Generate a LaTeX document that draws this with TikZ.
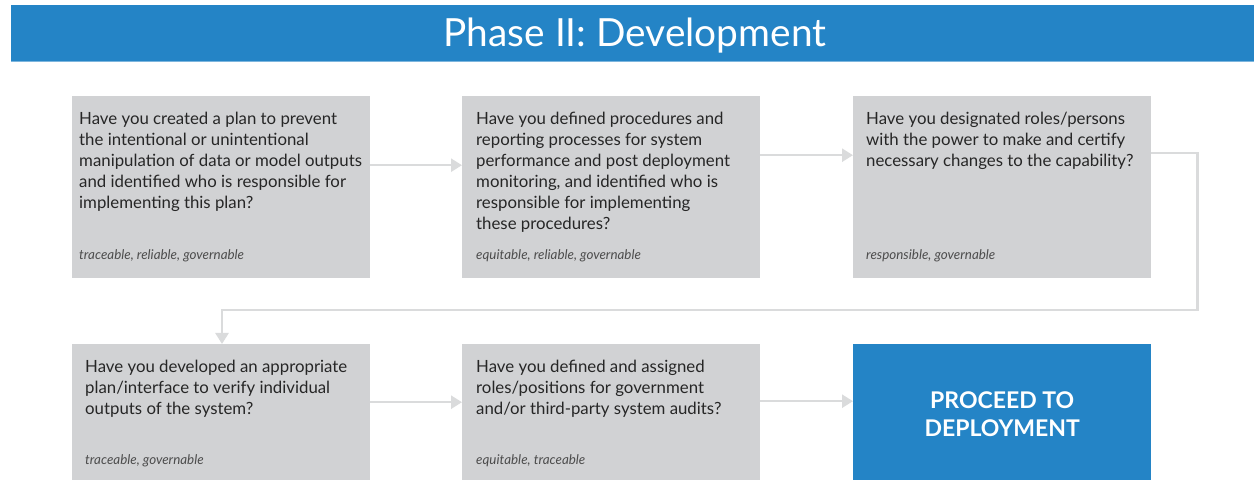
\documentclass[tikz,border=0pt]{standalone}
\usepackage{fontspec}
\setmainfont{Lato}
\usetikzlibrary{arrows.meta}
\definecolor{bannerblue}{HTML}{2484C6}
\definecolor{boxgray}{HTML}{D1D2D4}
\definecolor{flowgray}{HTML}{DADBDC}

\begin{document}
\begin{tikzpicture}[x=1pt,y=-1pt]
    \tikzstyle{qbox}=[rectangle,fill=boxgray,minimum width=298pt,minimum height=182pt,anchor=north west,inner sep=0pt]
    \tikzstyle{qtext}=[anchor=north west,align=left,inner sep=0pt,font=\fontsize{16.8}{21}\selectfont,text=black!85]
    \tikzstyle{tag}=[anchor=west,inner sep=0pt,font=\fontsize{13.4}{15}\selectfont\itshape,text=black!70]
    \tikzstyle{flow}=[draw=flowgray,line width=2.5pt,-{Triangle[length=11pt,width=13pt]}]
    \useasboundingbox (0,0) rectangle (1254,481);
    % title banner
    \fill[bannerblue] (11,5) rectangle (1254,62);
    \draw[bannerblue!60,line width=1pt] (11,62) -- (1254,62);
    \node[text=white,font=\fontsize{38.8}{42}\selectfont] (title) at (635,36) {Phase II: Development};
    % first row
    \node[qbox] (q1) at (72,96) {};
    \node[qbox] (q2) at (462,96) {};
    \node[qbox] (q3) at (853,96) {};
    \node[qtext] (q1t) at (79,112) {Have you created a plan to prevent\\the intentional or unintentional\\manipulation of data or model outputs\\and identified who is responsible for\\implementing this plan?};
    \node[qtext] (q2t) at (476,112) {Have you defined procedures and\\reporting processes for system\\performance and post deployment\\monitoring, and identified who is\\responsible for implementing\\these procedures?};
    \node[qtext] (q3t) at (866,112) {Have you designated roles/persons\\with the power to make and certify\\necessary changes to the capability?};
    \node[tag] (q1g) at (79,256) {traceable, reliable, governable};
    \node[tag] (q2g) at (476,256) {equitable, reliable, governable};
    \node[tag] (q3g) at (866,256) {responsible, governable};
    % second row
    \node[qbox,minimum height=136pt] (q4) at (72,344) {};
    \node[qbox,minimum height=136pt] (q5) at (462,344) {};
    \node[qbox,minimum height=136pt,fill=bannerblue] (go) at (853,344) {};
    \node[qtext] (q4t) at (85,360) {Have you developed an appropriate\\plan/interface to verify individual\\outputs of the system?};
    \node[qtext] (q5t) at (476,360) {Have you defined and assigned\\roles/positions for government\\and/or third-party system audits?};
    \node[text=white,align=center,font=\fontsize{23}{28}\bfseries\selectfont] (got) at ([yshift=-2pt]go.center) {PROCEED TO\\DEPLOYMENT};
    \node[tag] (q4g) at (85,461) {traceable, governable};
    \node[tag] (q5g) at (476,461) {equitable, traceable};
    % connectors
    \coordinate (turn) at (222,310);
    \draw[flow] ([yshift=22pt]q1.east) -- ([yshift=22pt]q2.west);
    \draw[flow] ([yshift=32pt]q2.east) -- ([yshift=32pt]q3.west);
    \draw[flow] ([yshift=34pt]q3.east) -- ++(46,0) |- (turn) -- (turn |- q4.north);
    \draw[flow] ([yshift=10pt]q4.east) -- ([yshift=10pt]q5.west);
    \draw[flow] ([yshift=11pt]q5.east) -- ([yshift=11pt]go.west);
\end{tikzpicture}
\end{document}
